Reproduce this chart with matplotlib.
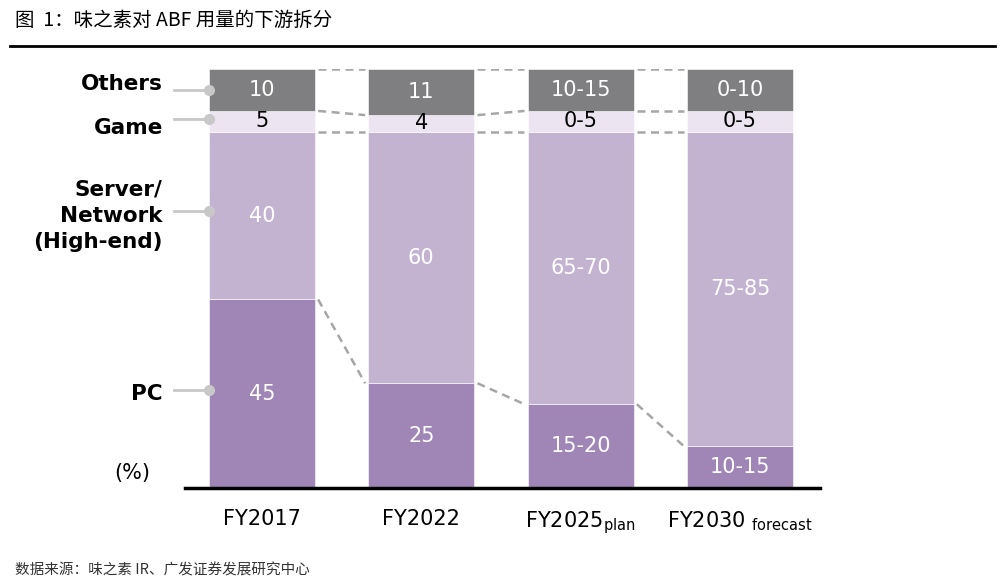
import numpy as np
import matplotlib.pyplot as plt

plt.rcParams["font.family"] = ["DejaVu Sans", "Noto Sans CJK SC"]

# data (bar heights in %, plus the printed labels)
years = ["FY2017", "FY2022", "FY2025", "FY2030"]
year_notes = ["", "", "plan", "forecast"]
pc = [45, 25, 20, 10]
server = [40, 60, 65, 75]
game = [5, 4, 5, 5]
others = [10, 11, 10, 10]
pc_labels = ["45", "25", "15-20", "10-15"]
server_labels = ["40", "60", "65-70", "75-85"]
game_labels = ["5", "4", "0-5", "0-5"]
others_labels = ["10", "11", "10-15", "0-10"]
segments = ["PC", "Server/\nNetwork\n(High-end)", "Game", "Others"]

colors = ["#a086b6", "#c4b3d0", "#ece5f1", "#7f7f82"]
text_colors = ["white", "white", "black", "white"]

fig = plt.figure(figsize=(10, 5.86), dpi=100)
ax = fig.add_axes([0.185, 0.1672, 0.635, 0.715])

x = np.arange(len(years))
width = 0.665
series = [pc, server, game, others]
labels = [pc_labels, server_labels, game_labels, others_labels]

bottom = np.zeros(len(years))
tops = []
for vals, labs, c, tc in zip(series, labels, colors, text_colors):
    vals = np.array(vals, dtype=float)
    ax.bar(x, vals, width, bottom=bottom, color=c, edgecolor="white",
           linewidth=0.4, zorder=2)
    for xi, b, v, lab in zip(x, bottom, vals, labs):
        ax.text(xi, b + v / 2, lab, ha="center", va="center", color=tc,
                fontsize=15, zorder=3)
    bottom = bottom + vals
    tops.append(bottom.copy())

# dashed connectors between bars (segment boundaries)
gap = 0.02
for level in tops:
    for i in range(len(years) - 1):
        ax.plot([x[i] + width / 2 + gap, x[i + 1] - width / 2 - gap],
                [level[i], level[i + 1]], ls=(0, (3.2, 2.2)),
                color="#a6a6a6", lw=1.8, zorder=1)

ax.set_xlim(-0.483, 3.502)
ax.set_ylim(0, 100)
for s in ["top", "right", "left"]:
    ax.spines[s].set_visible(False)
ax.spines["bottom"].set_linewidth(2.5)
ax.spines["bottom"].set_color("black")
ax.set_yticks([])
ax.set_xticks([])

# category labels with small subscripts
for xi, yr, note in zip(x, years, year_notes):
    if note == "plan":
        txt = yr + r"$_{\mathrm{plan}}$"
    elif note:
        txt = yr + r" $_{\mathrm{" + note + "}}$"
    else:
        txt = yr
    ax.text(xi, -5.0, txt, ha="center", va="top", fontsize=15)

# left-hand segment labels with connector dots
label_y = [23.5, 66, 88, 95]
text_y = [22.5, 65, 86, 96.5]
bar_left = x[0] - width / 2
for seg, ly, ty in zip(segments, label_y, text_y):
    ax.plot([bar_left - 0.22, bar_left], [ly, ly], color="#c8c8c8", lw=2,
            clip_on=False, zorder=4)
    ax.plot([bar_left], [ly], "o", color="#c8c8c8", ms=7, clip_on=False,
            zorder=4)
    ax.text(bar_left - 0.29, ty, seg, ha="right", va="center", fontsize=15.5,
            fontweight="bold", linespacing=1.4)

ax.text(bar_left - 0.48, 3.5, "(%)", ha="center", va="center", fontsize=15)

# title, rule and source
fig.text(0.015, 0.965, "图  1：味之素对 ABF 用量的下游拆分", ha="left",
         va="center", fontsize=14,
         family=["Noto Sans CJK SC", "DejaVu Sans"])
fig.add_artist(plt.Line2D([0.01, 0.995], [0.922, 0.922], color="black", lw=2))
fig.text(0.015, 0.027, "数据来源：味之素 IR、广发证券发展研究中心", ha="left",
         va="center", fontsize=10.5, color="#333333",
         family=["Noto Sans CJK SC", "DejaVu Sans"])

fig.savefig("out.png", dpi=100)
